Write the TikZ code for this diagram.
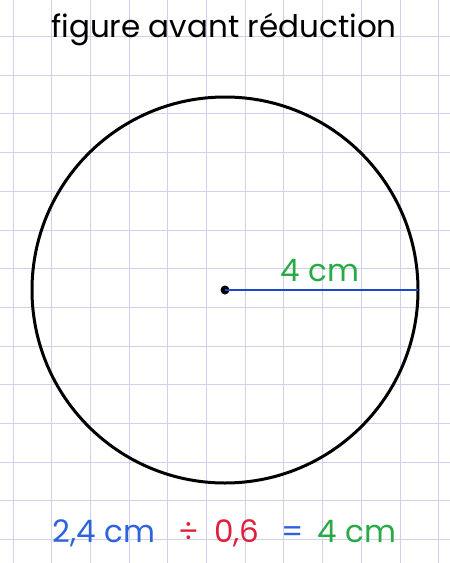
\documentclass[tikz,border=0pt]{standalone}
\usepackage{fontspec}
\setmainfont{Poppins}
\usetikzlibrary{positioning}

\definecolor{gridcol}{RGB}{208,208,236}
\definecolor{radblue}{RGB}{30,70,200}
\definecolor{txtblue}{RGB}{45,100,220}
\definecolor{txtred}{RGB}{225,30,60}
\definecolor{txtgreen}{RGB}{40,170,70}

\tikzset{
  gridline/.style={gridcol, line width=0.5pt},
  label/.style={font=\fontsize{15.5}{18}\selectfont, inner sep=0pt, anchor=base}
}

\begin{document}
\begin{tikzpicture}[x=0.5pt, y=-0.5pt]

        \useasboundingbox (0,0) rectangle (450,563);
        \fill[white] (0,0) rectangle (450,563);

        %===========================
        % Grid paper
        %===========================

        \foreach \i in {0,...,11}
            \draw[gridline] (13+38.7*\i,0) -- (13+38.7*\i,563);
        \foreach \j in {0,...,13}
            \draw[gridline] (0,36.5+38.7*\j) -- (450,36.5+38.7*\j);

        %===========================
        % Title
        %===========================

        \node (title) at (224,37) [label]{figure avant réduction};

        %===========================
        % Circle and radius
        %===========================

        \draw[line width=1.5pt] (225,290) circle (193);
        \draw node (O) at (225,290) [fill=black, circle, minimum size=4.5pt, inner sep=0pt]{};
        \coordinate (R) at (418,290);
        \draw[radblue, line width=1.4pt] (O.center) -- (R);
        \node (radius) at (320,281) [label, txtgreen]{4 cm};

        %===========================
        % Calculation
        %===========================

        \node (lhs) at (104,542) [label, txtblue]{2,4 cm};
        \node (div) at (189,542) [label, txtred]{÷};
        \node (fac) at (237,542) [label, txtred]{0,6};
        \node (eq) at (293,542) [label, txtblue]{=};
        \node (rhs) at (357,542) [label, txtgreen]{4 cm};

\end{tikzpicture}
\end{document}
